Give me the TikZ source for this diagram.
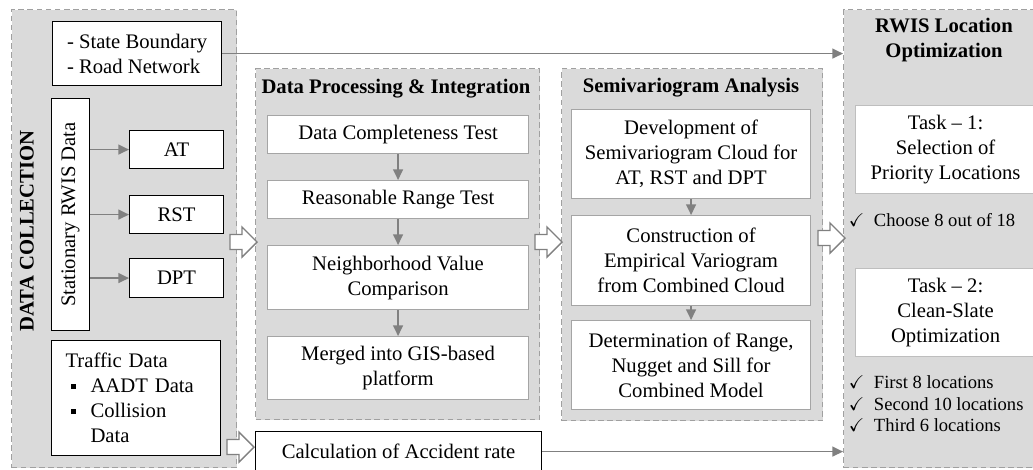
\documentclass[tikz,border=0pt]{standalone}
\usepackage{amssymb}
\usepackage{fontspec}
\setmainfont{Liberation Serif}
\usepackage{tikz}
\usetikzlibrary{calc, arrows.meta}
\definecolor{panelfill}{RGB}{218, 218, 218}
\definecolor{panelline}{RGB}{160, 160, 160}
\definecolor{arrowgray}{RGB}{128, 128, 128}
\definecolor{boxline}{RGB}{165, 165, 165}
\definecolor{taskline}{RGB}{190, 190, 190}
\newlength{\px}
\setlength{\px}{0.025cm}
\newcommand{\boxfont}{\fontsize{14.7}{17.8}\selectfont}
\newcommand{\listfont}{\fontsize{13.2}{15.3}\selectfont}
\newcommand{\bul}{\makebox[25\px][l]{\hspace{5\px}\raisebox{2.6pt}{\rule{3.6pt}{3.6pt}}}}
\newcommand{\chk}{\makebox[25\px][l]{\checkmark}}
\newcommand{\blockarrow}[2]{%
  \draw[hollow] ($(#1)+(0,-7.5)$) -- ($(#2)+(-15,-7.5)$) -- ($(#2)+(-15,-15)$) -- (#2)
    -- ($(#2)+(-15,15)$) -- ($(#2)+(-15,7.5)$) -- ($(#1)+(0,7.5)$) -- cycle;}

\tikzset{
  sz/.style 2 args={minimum width=#1\px, minimum height=#2\px},
  panel/.style={anchor=north west, draw=panelline, fill=panelfill, line width=0.9pt,
    dash pattern=on 4pt off 2.5pt},
  dcbox/.style={anchor=north west, draw=black, fill=white, line width=0.8pt, align=center},
  graybox/.style={anchor=north west, draw=boxline, fill=white, line width=0.8pt, align=center},
  taskbox/.style={anchor=north west, draw=taskline, fill=white, line width=0.8pt, align=center},
  title/.style={font=\boxfont\bfseries, align=center},
  flow/.style={draw=arrowgray, line width=1.2pt, -{Triangle[length=7.5pt, width=7pt]}},
  hollow/.style={draw=arrowgray, fill=white, line width=1pt, line join=miter}
}

\begin{document}
\begin{tikzpicture}[x=0.025cm, y=-0.025cm, every node/.style={font=\boxfont}]

  \useasboundingbox (0,0) rectangle (1033,469);

  % panels
  \node[panel, sz={225}{458}] (dc) at (11,9) {};
  \node[panel, sz={284}{351}] (proc) at (255,68) {};
  \node[panel, sz={261}{352}] (semi) at (561,68) {};
  \node[panel, sz={210}{458}] (rwis) at (843,9) {};

  % data collection
  \node[rotate=90, font=\boxfont\bfseries] (dctitle) at (27,231) {DATA COLLECTION};
  \node[dcbox, sz={169}{64}, align=left] (bound) at (52,21)
    {- State Boundary\\- Road Network};
  \node[dcbox, sz={38}{232}] (stat) at (51,98) {};
  \node[rotate=90] (stattext) at (stat.center) {Stationary RWIS Data};
  \node[dcbox, sz={94}{38}] (at) at (129,130) {AT};
  \node[dcbox, sz={94}{38}] (rst) at (129,195) {RST};
  \node[dcbox, sz={94}{39}] (dpt) at (129,258) {DPT};
  \foreach \n in {at, rst, dpt}
    \draw[flow] (\n.west -| stat.east) -- (\n.west);
  \node[dcbox, sz={169}{115}, text width=141\px, align=left] (traffic) at (51,340)
    {Traffic Data\\\bul AADT Data\\\bul Collision\\\hspace*{25\px}Data};

  % data processing
  \node[title] (proctitle) at (396,89) {Data Processing \& Integration};
  \node[graybox, sz={261}{38}] (p1) at (267,115) {Data Completeness Test};
  \node[graybox, sz={261}{38}] (p2) at (267,180) {Reasonable Range Test};
  \node[graybox, sz={261}{64}] (p3) at (267,245) {Neighborhood Value\\Comparison};
  \node[graybox, sz={261}{63}] (p4) at (267,336) {Merged into GIS-based\\platform};
  \draw[flow] (p1) -- (p2);
  \draw[flow] (p2) -- (p3);
  \draw[flow] (p3) -- (p4);

  \node[dcbox, sz={286}{40}] (calc) at (255,431) {Calculation of Accident rate};

  % semivariogram
  \node[title] (semititle) at (691,88) {Semivariogram Analysis};
  \node[graybox, sz={239}{89}] (s1) at (571,109)
    {Development of\\Semivariogram Cloud for\\AT, RST and DPT};
  \node[graybox, sz={239}{90}] (s2) at (571,215)
    {Construction of\\Empirical Variogram\\from Combined Cloud};
  \node[graybox, sz={239}{89}] (s3) at (571,320)
    {Determination of Range,\\Nugget and Sill for\\Combined Model};
  \draw[flow] (s1) -- (s2);
  \draw[flow] (s2) -- (s3);

  % rwis location optimization
  \node[title] (rwistitle) at (944,40) {RWIS Location\\Optimization};
  \node[taskbox, sz={180}{88}] (task1) at (855,105)
    {Task -- 1:\\Selection of\\Priority Locations};
  \node[anchor=west, font=\listfont] (choose) at (844,220) {\chk Choose 8 out of 18};
  \node[taskbox, sz={180}{88}] (task2) at (855,268)
    {Task -- 2:\\Clean-Slate\\Optimization};
  \node[anchor=west, align=left, font=\listfont] (checks) at (844,404)
    {\chk First 8 locations\\\chk Second 10 locations\\\chk Third 6 locations};

  % long connectors
  \draw[flow] (bound.east) -- (bound.east -| rwis.west);
  \draw[flow] (calc.east) -- (calc.east -| rwis.west);

  % block arrows
  \coordinate (ba1) at (230,242);
  \coordinate (bb1) at (257,242);
  \coordinate (ba2) at (535,242);
  \coordinate (bb2) at (562,242);
  \coordinate (ba3) at (818,238);
  \coordinate (bb3) at (845,238);
  \coordinate (ba4) at (227,447);
  \coordinate (bb4) at (254,447);
  \blockarrow{ba1}{bb1}
  \blockarrow{ba2}{bb2}
  \blockarrow{ba3}{bb3}
  \blockarrow{ba4}{bb4}

\end{tikzpicture}
\end{document}
